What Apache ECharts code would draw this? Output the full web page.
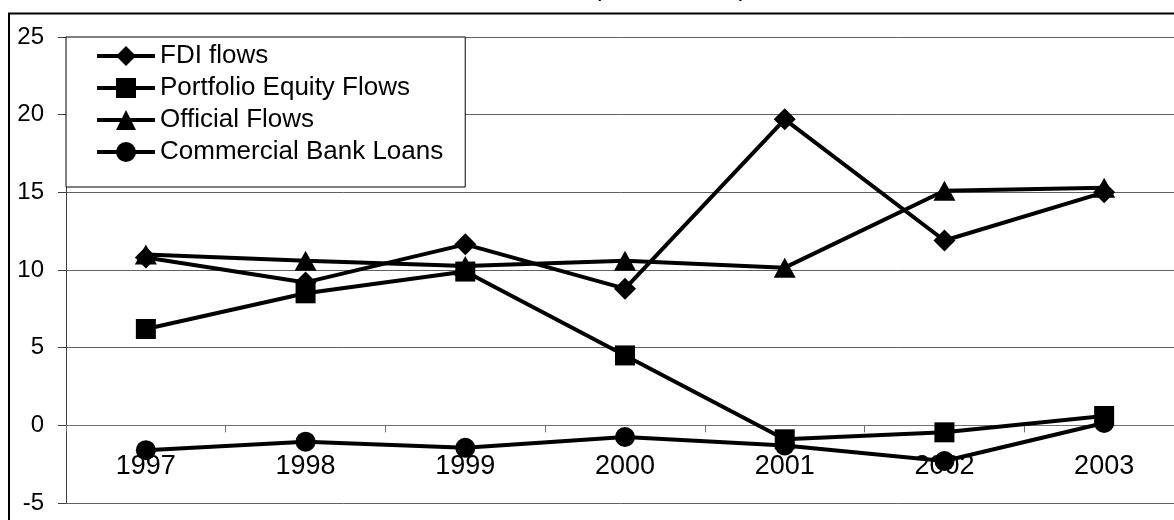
<!DOCTYPE html>
<html>
<head>
<meta charset="utf-8">
<script src="https://cdn.jsdelivr.net/npm/echarts@6/dist/echarts.min.js"></script>
<style>
  html, body { margin: 0; padding: 0; background: #fff; }
  #chart { width: 1174px; height: 520px; }
</style>
</head>
<body>
<div id="chart"></div>
<script>
// Years on the category axis
const years = ['1997', '1998', '1999', '2000', '2001', '2002', '2003'];

// Capital flows by type
const fdiFlows = [10.8, 9.2, 11.65, 8.8, 19.7, 11.9, 15.0];
const portfolioEquityFlows = [6.2, 8.5, 9.9, 4.5, -0.9, -0.45, 0.6];
const officialFlows = [11.0, 10.6, 10.25, 10.6, 10.15, 15.1, 15.3];
const commercialBankLoans = [-1.6, -1.05, -1.45, -0.75, -1.3, -2.3, 0.15];

// Value axis range
const yMin = -5;
const yMax = 25;
const yStep = 5;

const FONT = 'Arial, "Liberation Sans", sans-serif';

// Plot area geometry (px)
const GRID_LEFT = 66;
const GRID_TOP = 37;
const GRID_WIDTH = 1118;
const GRID_HEIGHT = 466;
// Category axis sits on the zero line, together with its ticks and labels
const ZERO_OFFSET = -GRID_HEIGHT * (0 - yMin) / (yMax - yMin);

function lineSeries(name, data, symbol, size) {
  return {
    name: name,
    type: 'line',
    data: data,
    symbol: symbol,
    symbolSize: size,
    showAllSymbol: true,
    lineStyle: { color: '#000', width: 4 },
    itemStyle: { color: '#000' },
    emphasis: { disabled: true },
    animation: false
  };
}

const chart = echarts.init(document.getElementById('chart'), null, { renderer: 'canvas' });

chart.setOption({
  backgroundColor: '#fff',
  animation: false,
  graphic: [
    {
      type: 'rect',
      z: 100,
      silent: true,
      shape: { x: 9, y: 13.5, width: 1400, height: 700 },
      style: { fill: 'none', stroke: '#000', lineWidth: 2 }
    },
    {
      type: 'text',
      silent: true,
      x: 670,
      y: 2,
      style: {
        text: '(US$ billions)',
        font: '26px ' + FONT,
        fill: '#000',
        align: 'center',
        verticalAlign: 'bottom'
      }
    }
  ],
  grid: {
    left: GRID_LEFT,
    top: GRID_TOP,
    width: GRID_WIDTH,
    height: GRID_HEIGHT,
    containLabel: false,
    outerBoundsMode: 'none'
  },
  legend: {
    orient: 'vertical',
    left: 66,
    top: 37,
    itemWidth: 58,
    itemHeight: 25,
    itemGap: 6,
    padding: [6, 22, 22, 29],
    backgroundColor: '#fff',
    borderColor: '#000',
    borderWidth: 1,
    borderRadius: 0,
    lineStyle: { color: '#000', width: 4 },
    itemStyle: { color: '#000' },
    textStyle: { color: '#000', fontSize: 26, fontFamily: FONT },
    data: ['FDI flows', 'Portfolio Equity Flows', 'Official Flows', 'Commercial Bank Loans'],
    selectedMode: false,
    z: 10
  },
  xAxis: {
    type: 'category',
    data: years,
    boundaryGap: true,
    offset: ZERO_OFFSET,
    axisLine: { onZero: false, lineStyle: { color: '#707070', width: 1 } },
    axisTick: { show: true, length: 7, alignWithLabel: false, lineStyle: { color: '#707070' } },
    axisLabel: { color: '#000', fontSize: 27, fontFamily: FONT, margin: 28 },
    splitLine: { show: false }
  },
  yAxis: {
    type: 'value',
    min: yMin,
    max: yMax,
    interval: yStep,
    axisLine: { show: true, lineStyle: { color: '#404040', width: 1 } },
    axisTick: { show: true, length: 8, lineStyle: { color: '#404040' } },
    axisLabel: { color: '#000', fontSize: 24, fontFamily: FONT, margin: 22 },
    splitLine: { show: true, lineStyle: { color: '#606060', width: 1 } }
  },
  series: [
    lineSeries('FDI flows', fdiFlows, 'diamond', [22, 22]),
    lineSeries('Portfolio Equity Flows', portfolioEquityFlows, 'rect', [20, 20]),
    lineSeries('Official Flows', officialFlows, 'triangle', [22, 20]),
    lineSeries('Commercial Bank Loans', commercialBankLoans, 'circle', [20, 20])
  ]
});
</script>
</body>
</html>
